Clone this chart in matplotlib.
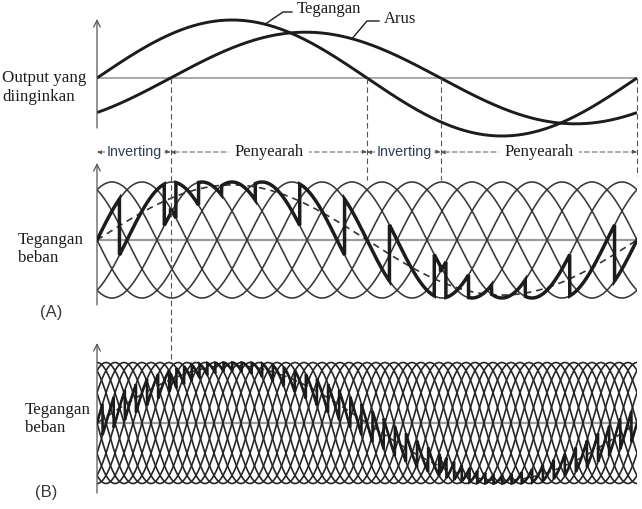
import numpy as np
import matplotlib
matplotlib.use("Agg")
import matplotlib.pyplot as plt

W, H = 642, 509

# ---- desired output (one output cycle, degrees) ----
out_cycle = [0.0, 360.0]
voltage_amp = 1.0          # desired output voltage, p.u.
current_amp = 0.79         # load current, p.u.
current_lag_deg = 49.0     # current lags the voltage
ref_amp = 0.95             # reference used by the converters, p.u. of supply peak

# ---- supply used for the two load-voltage panels ----
panel_names = ["(A)", "(B)"]
phase_count = [6, 12]      # supply phases seen by the converter
supply_cycles = [3, 5]     # supply cycles per output cycle

region_labels = ["Inverting", "Penyearah", "Inverting", "Penyearah"]

SERIF = ["Liberation Serif", "DejaVu Serif"]
SANS = ["Liberation Sans", "DejaVu Sans"]
INK = "#1c1c1c"
GRID = "#9a9a9a"

theta = np.arange(-120.0, 480.0, 0.02)
rad = np.radians
voltage = voltage_amp * np.sin(rad(theta))
current = current_amp * np.sin(rad(theta - current_lag_deg))
reference = ref_amp * np.sin(rad(theta))


def positive_group(ref, n_phase, cycles):
    """Output of a converter group fired by cosine-wave crossing."""
    phi = cycles * theta
    delta = 360.0 / n_phase
    vdo = np.sin(np.pi / n_phase) / (np.pi / n_phase)
    alpha = np.degrees(np.arccos(np.clip(ref / vdo, -1.0, 1.0)))
    js = np.arange(int(np.floor((phi[0] - 90) / delta)) - n_phase,
                   int(np.ceil((phi[-1] - 90) / delta)) + 2)
    fire = np.full(js.size, np.inf)
    for i, j in enumerate(js):
        nat = 90.0 - delta / 2 + j * delta
        ok = (phi >= nat) & (phi - nat >= alpha)
        if ok.any():
            fire[i] = phi[np.argmax(ok)]
    fire = np.minimum.accumulate(fire[::-1])[::-1]
    idx = np.clip(np.searchsorted(fire, phi, side="right") - 1, 0, None)
    return np.sin(rad(phi - js[idx] * delta))


def load_voltage(n_phase, cycles):
    pos = positive_group(reference, n_phase, cycles)
    neg = -positive_group(-reference, n_phase, cycles)
    return np.where(current >= 0, pos, neg)


fig = plt.figure(figsize=(W / 100, H / 100), dpi=100)
X0, X1 = 97, 637


def px_axes(top, bottom, zero, scale):
    ax = fig.add_axes([X0 / W, 1 - bottom / H, (X1 - X0) / W, (bottom - top) / H])
    ax.set_xlim(out_cycle)
    ax.set_ylim(-(bottom - zero) / scale, (zero - top) / scale)
    ax.axis("off")
    return ax


def y_of(ax_zero, scale, px):
    return (ax_zero - px) / scale


def vertical_axis(ax, zero, scale, top_px, bottom_px):
    ax.annotate("", xy=(0, y_of(zero, scale, top_px)), xytext=(0, y_of(zero, scale, bottom_px)),
                arrowprops=dict(arrowstyle="->", color="#555555", lw=0.9, mutation_scale=12,
                                shrinkA=0, shrinkB=0), annotation_clip=False)


def ftext(x, y, s, **kw):
    fig.text(x / W, 1 - y / H, s, **kw)


# ---------------- top: desired output ----------------
Z0, S0 = 78, 58
ax0 = px_axes(0, 165, Z0, S0)
ax0.plot(out_cycle, [0, 0], color=GRID, lw=1.2)
vertical_axis(ax0, Z0, S0, 19, 128)
ax0.plot(theta, voltage, color=INK, lw=2.1, solid_capstyle="butt")
ax0.plot(theta, current, color=INK, lw=2.1, solid_capstyle="butt")

# leaders for the two curve names
tv = 112.0
ax0.plot([tv, tv + 12, tv + 18], [np.interp(tv, theta, voltage), y_of(Z0, S0, 12), y_of(Z0, S0, 12)],
         color=INK, lw=1.0, clip_on=False)
ax0.text(tv + 21, y_of(Z0, S0, 9), "Tegangan", family=SERIF, fontsize=12, color=INK,
         va="center", ha="left", clip_on=False)
ti = 170.0
ax0.plot([ti, ti + 10, ti + 18], [np.interp(ti, theta, current), y_of(Z0, S0, 21), y_of(Z0, S0, 21)],
         color=INK, lw=1.0, clip_on=False)
ax0.text(ti + 21, y_of(Z0, S0, 19), "Arus", family=SERIF, fontsize=12, color=INK,
         va="center", ha="left", clip_on=False)

ftext(2, 78, "Output yang", family=SERIF, fontsize=12.2, color=INK, va="center")
ftext(2, 97, "diinginkan", family=SERIF, fontsize=12.2, color=INK, va="center")

# region boundaries come from the zero crossings of voltage and current
bounds = [out_cycle[0], current_lag_deg, 180.0, 180.0 + current_lag_deg, out_cycle[1]]
row = y_of(Z0, S0, 152)
for (a, b), lab in zip(zip(bounds[:-1], bounds[1:]), region_labels):
    ax0.annotate("", xy=(a, row), xytext=(b, row),
                 arrowprops=dict(arrowstyle="<|-|>", color="#555555", lw=0.7, ls=(0, (5, 3)),
                                 mutation_scale=6, shrinkA=0, shrinkB=0), annotation_clip=False)
    if lab == "Inverting":
        ax0.text((a + b) / 2, row, lab, family=SANS, fontsize=10.3, color="#2e3b55",
                 ha="center", va="center", clip_on=False,
                 bbox=dict(fc="white", ec="none", pad=0.6))
    else:
        ax0.text((a + b) / 2, row, lab, family=SERIF, fontsize=12, color=INK,
                 ha="center", va="center", clip_on=False,
                 bbox=dict(fc="white", ec="none", pad=4))

# ---------------- load voltage panels ----------------
panels = [dict(top=158, bottom=312, zero=240, scale=58, arrow=(163, 305),
               label_y=(240, 258, 312), label_x=(18, 40),
               lattice=("#383838", 1.15), heavy=2.5),
          dict(top=338, bottom=500, zero=423, scale=60.5, arrow=(343, 493),
               label_y=(410, 428, 493), label_x=(25, 35),
               lattice=("#262626", 1.2), heavy=1.9)]

for p, name, n_ph, cyc in zip(panels, panel_names, phase_count, supply_cycles):
    ax = px_axes(p["top"], p["bottom"], p["zero"], p["scale"])
    ax.plot(out_cycle, [0, 0], color=GRID, lw=1.6, zorder=1)
    vertical_axis(ax, p["zero"], p["scale"], *p["arrow"])
    delta = 360.0 / n_ph
    col, lw_lat = p["lattice"]
    for k in range(n_ph):
        ax.plot(theta, np.sin(rad(cyc * theta - k * delta)), color=col, lw=lw_lat, zorder=2)
    ax.plot(theta, reference, color="#333333", lw=1.2, dashes=(4, 3), zorder=3)
    vout = load_voltage(n_ph, cyc)
    ax.plot(theta, vout, color=INK, lw=p["heavy"], zorder=4, solid_joinstyle="miter")
    ly1, ly2, ly3 = p["label_y"]
    lx1, lx2 = p["label_x"]
    ftext(lx1, ly1, "Tegangan", family=SERIF, fontsize=12.2, color=INK, va="center")
    ftext(lx1, ly2, "beban", family=SERIF, fontsize=12.2, color=INK, va="center")
    ftext(lx2, ly3, name, family=SANS, fontsize=12, color="#3a3a3a", va="center")

# dashed guide lines through all panels
overlay = fig.add_axes([X0 / W, 0, (X1 - X0) / W, 1])
overlay.set_xlim(out_cycle)
overlay.set_ylim(H, 0)
overlay.axis("off")
guide_ends = [362, 180, 180, 176]
for xb, yend in zip(bounds[1:], guide_ends):
    overlay.plot([xb, xb], [78, yend], color="#555555", lw=0.8, dashes=(5, 3), clip_on=False)

fig.savefig("out.png", dpi=100)
